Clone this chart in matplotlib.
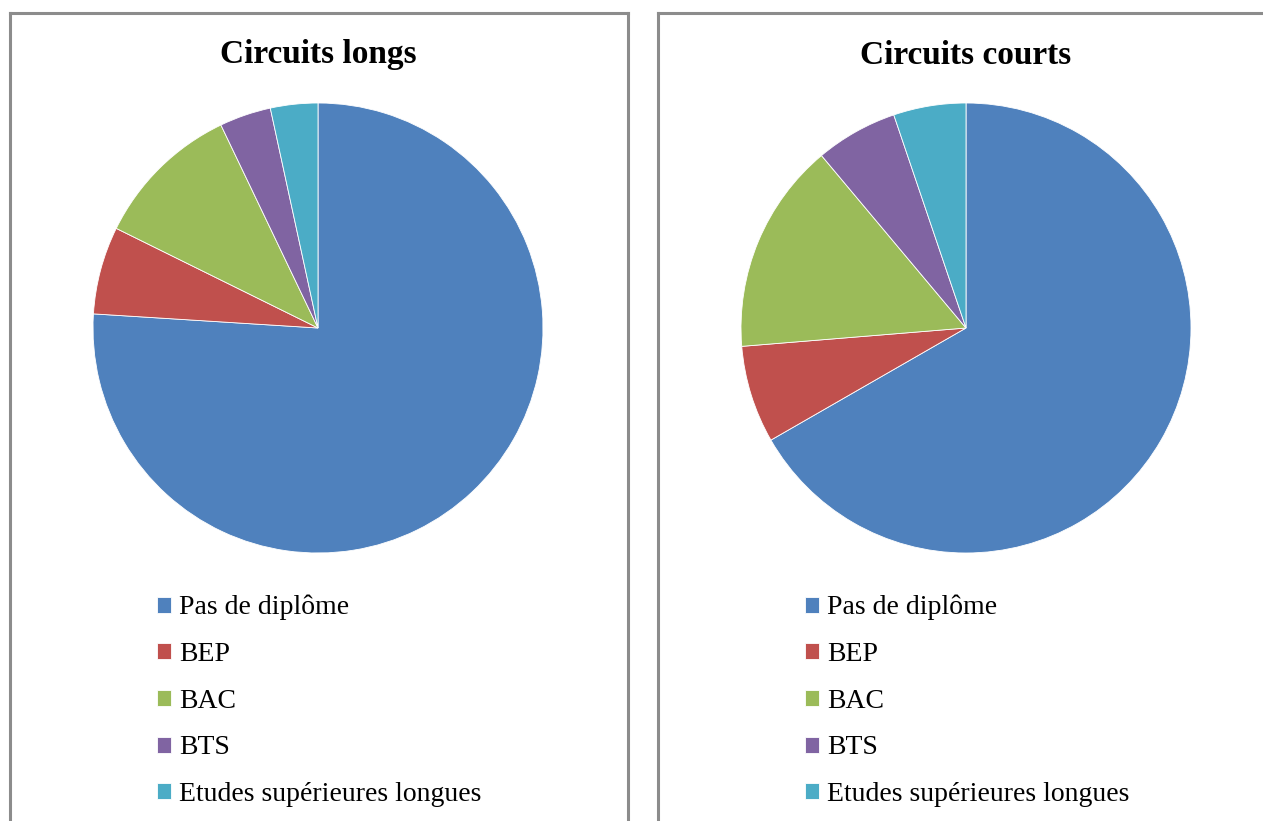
import matplotlib
matplotlib.use("Agg")
import matplotlib.pyplot as plt
from matplotlib.lines import Line2D

categories = ["Pas de diplôme", "BEP", "BAC", "BTS", "Etudes supérieures longues"]
longs = [76.0, 6.3, 10.6, 3.7, 3.4]
courts = [66.7, 7.0, 15.2, 5.9, 5.2]
titles = ["Circuits longs", "Circuits courts"]
colors = ["#4F81BD", "#C0504D", "#9BBB59", "#8064A2", "#4BACC6"]

W, H = 1263, 821
plt.rcParams["font.family"] = ["Liberation Serif", "DejaVu Serif"]
fig = plt.figure(figsize=(W / 100, H / 100), dpi=100)

BORDER = "#8c8c8c"


def px(x0, y0, x1, y1):
    # pixel line (top-left origin) -> figure fraction
    return [x0 / W, x1 / W], [1 - y0 / H, 1 - y1 / H]


# panel frames
for seg in [(10, 13, 628, 13), (10, 13, 10, 821), (628, 13, 628, 821),
            (658, 13, 1263, 13), (658, 13, 658, 821)]:
    xs, ys = px(*seg)
    fig.add_artist(Line2D(xs, ys, color=BORDER, lw=2.2, transform=fig.transFigure))

R = 225
CY = 328
for cx, vals, title in [(318, longs, titles[0]), (966, courts, titles[1])]:
    ax = fig.add_axes([(cx - R) / W, (H - CY - R) / H, 2 * R / W, 2 * R / H])
    wedges, _ = ax.pie(vals, colors=colors, startangle=90, counterclock=False,
                       radius=1, wedgeprops=dict(edgecolor="white", linewidth=0.6))
    ax.set_xlim(-1, 1)
    ax.set_ylim(-1, 1)
    ax.set_aspect("equal")
    ax.axis("off")
    fig.text(cx / W, 1 - 55 / H, title, ha="center", va="center",
             fontsize=24, fontweight="bold")
    # legend anchored in pixel terms relative to the pie axes box
    lx = (cx - 161 - (cx - R)) / (2 * R)
    ly = (CY + R - 595) / (2 * R)
    ax.legend(wedges, categories, loc="upper left", bbox_to_anchor=(lx, ly),
              frameon=False, fontsize=20, handlelength=0.5, handleheight=0.5,
              handletextpad=0.3, labelspacing=0.78, borderaxespad=0, borderpad=0)

fig.savefig("out.png", dpi=100, facecolor="white")
